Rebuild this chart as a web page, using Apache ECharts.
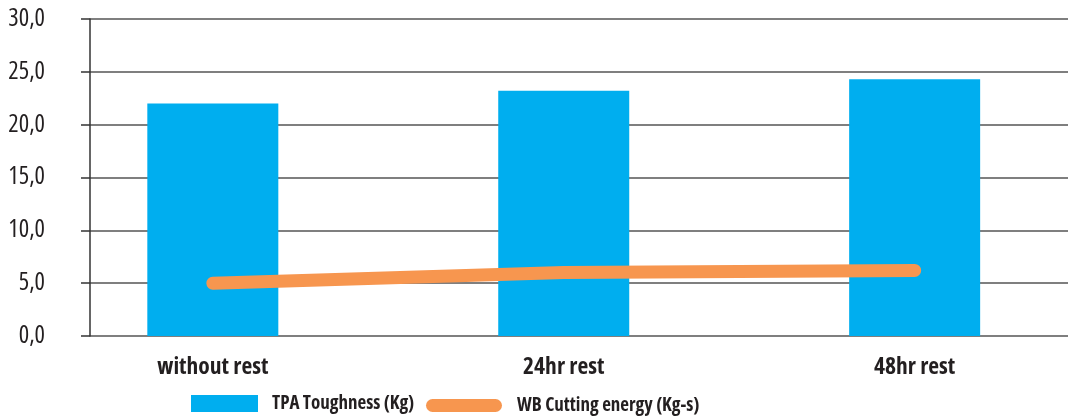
<!DOCTYPE html>
<html>
<head>
<meta charset="utf-8">
<script src="https://cdn.jsdelivr.net/npm/echarts@6/dist/echarts.min.js"></script>
<style>
  html, body { margin: 0; padding: 0; background: #fff; }
  #chart { width: 1068px; height: 417px; }
</style>
</head>
<body>
<div id="chart"></div>
<script>
// Rest condition groups along the horizontal axis
const categories = ['without rest', '24hr rest', '48hr rest'];
// TPA toughness per group (Kg)
const toughness = [22.0, 23.2, 24.3];
// Warner-Bratzler cutting energy per group (Kg-s)
const cuttingEnergy = [5.0, 6.0, 6.2];
// Vertical axis ticks
const yTicks = [0, 5, 10, 15, 20, 25, 30];

const seriesNames = ['TPA Toughness (Kg)', 'WB Cutting energy (Kg-s)'];
const BLUE = '#00AEEF';
const ORANGE = '#F7964F';
const TEXT = '#231F20';
const FONT = '"Open Sans", sans-serif';

// groups sit at positions 0, 1, 2 on a numeric x scale
const positions = categories.map((_, i) => i);

const chart = echarts.init(document.getElementById('chart'), null, { renderer: 'canvas' });

const legendText = {
  color: TEXT,
  fontStyle: 'condensed',
  fontFamily: FONT,
  fontWeight: 'bold',
  fontSize: 19,
  lineHeight: 17
};

chart.setOption({
  animation: false,
  backgroundColor: '#ffffff',
  grid: { left: 90, right: 0, top: 19, bottom: 81, containLabel: false },
  xAxis: {
    type: 'value',
    min: -0.350,
    max: 2.437,
    axisLine: { show: false },
    axisTick: { show: false },
    splitLine: { show: false },
    axisLabel: {
      customValues: positions,
      margin: 19,
      formatter: v => categories[Math.round(v)],
      color: TEXT,
      fontStyle: 'condensed',
      fontFamily: FONT,
      fontWeight: 'bold',
      fontSize: 23.5
    }
  },
  yAxis: {
    type: 'value',
    min: yTicks[0],
    max: yTicks[yTicks.length - 1],
    interval: 5,
    axisLine: { show: true, onZero: false, lineStyle: { color: '#333333', width: 1.5 } },
    axisTick: { show: true, inside: false, length: 9, lineStyle: { color: '#333333', width: 1.5 } },
    splitLine: { show: true, lineStyle: { color: '#555555', width: 1.5 } },
    axisLabel: {
      margin: 45,
      padding: [6, 0, 0, 0],
      formatter: v => v.toFixed(1).replace('.', ','),
      color: TEXT,
      fontStyle: 'condensed',
      fontFamily: FONT,
      fontSize: 24.5
    }
  },
  legend: [
    {
      left: 191,
      top: 394,
      padding: 0,
      itemWidth: 67,
      itemHeight: 17,
      data: [{ name: seriesNames[0], icon: 'rect' }],
      textStyle: Object.assign({}, legendText, { padding: [0, 0, 0, 9] })
    },
    {
      left: 426,
      top: 396,
      padding: 0,
      itemWidth: 76,
      itemHeight: 13,
      data: [{
        name: seriesNames[1],
        icon: 'path://M6.5,0 L69.5,0 A6.5,6.5 0 0 1 69.5,13 L6.5,13 A6.5,6.5 0 0 1 6.5,0 Z'
      }],
      textStyle: Object.assign({}, legendText, { padding: [0, 0, 0, 10] })
    }
  ],
  series: [
    {
      name: seriesNames[0],
      type: 'bar',
      barWidth: 131,
      itemStyle: { color: BLUE },
      data: positions.map((p, i) => [p, toughness[i]])
    },
    {
      name: seriesNames[1],
      type: 'line',
      symbol: 'none',
      itemStyle: { color: ORANGE },
      lineStyle: { color: ORANGE, width: 13, cap: 'round', join: 'round' },
      data: positions.map((p, i) => [p, cuttingEnergy[i]])
    }
  ]
});
</script>
</body>
</html>
